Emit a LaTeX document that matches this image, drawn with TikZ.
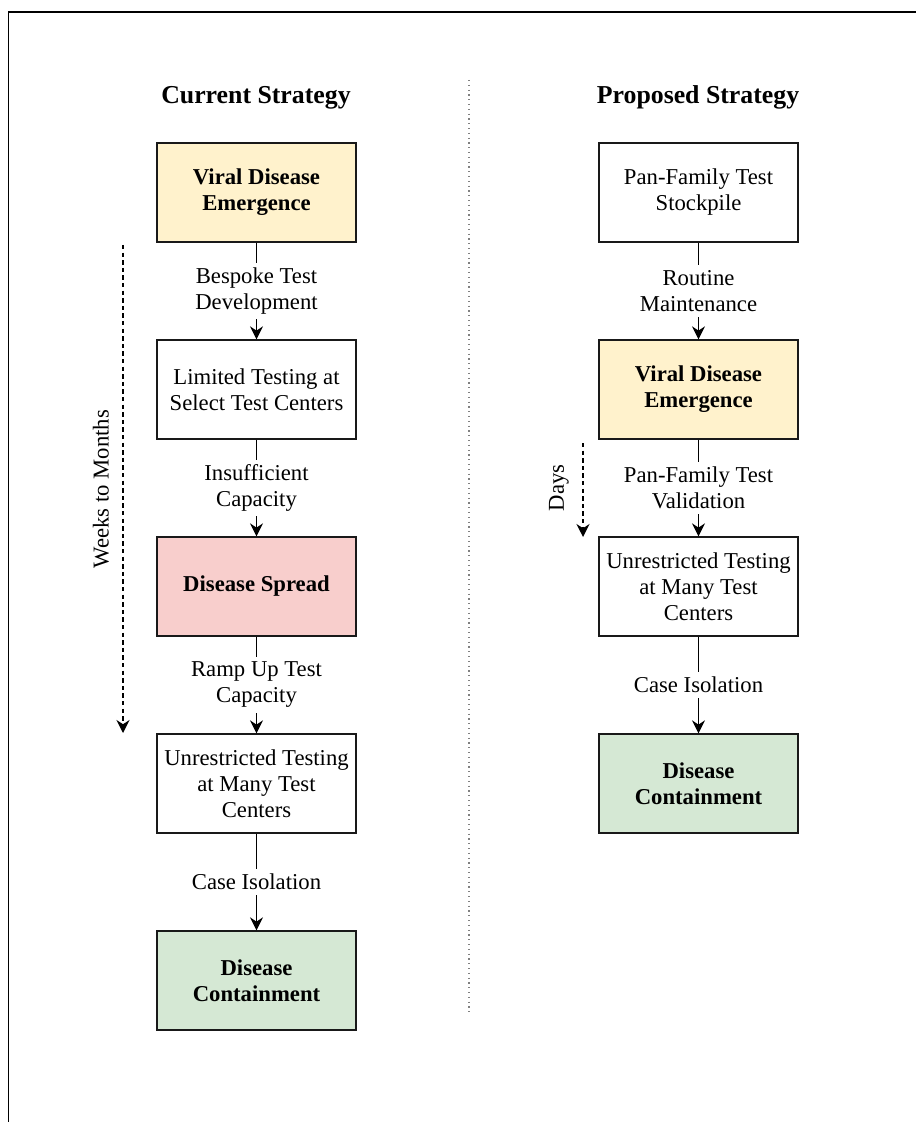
\documentclass[tikz,border=0pt]{standalone}
\usepackage{fontspec}
\setmainfont{Liberation Serif}
\usetikzlibrary{arrows.meta}
\definecolor{emergefill}{HTML}{FFF2CC}
\definecolor{spreadfill}{HTML}{F8CECC}
\definecolor{containfill}{HTML}{D5E8D4}
\tikzset{
	stage/.style={draw=black!90, line width=0.65pt, minimum width=99.5pt, minimum height=49.5pt, inner sep=2pt, align=center, font=\fontsize{11.35}{13}\selectfont},
	keystage/.style={stage, font=\fontsize{11.35}{13}\selectfont\bfseries},
	flow/.style={line width=0.65pt, -{Stealth[length=6.5pt,width=6.5pt]}},
	steplabel/.style={fill=white, align=center, inner xsep=1pt, inner ysep=2.5pt, font=\fontsize{11.35}{13}\selectfont},
	timeline/.style={line width=0.75pt, dash pattern=on 2.2pt off 1.6pt, -{Stealth[length=6.5pt,width=6.5pt]}},
	heading/.style={font=\fontsize{12.9}{15}\selectfont\bfseries}
}
\begin{document}
\begin{tikzpicture}[x=0.5pt,y=-0.5pt]
			\useasboundingbox (0,0) rectangle (916,1122);
			% frame and divider
			\draw[line width=0.65pt] (8.5,1122) -- (8.5,12) -- (916,12);
			\draw[gray, line width=0.6pt, dash pattern=on 0.6pt off 1.8pt] (469,80) -- (469,1013);
			% current strategy
			\node[heading] (curtitle) at (256,98) {Current Strategy};
			\node[keystage, fill=emergefill] (cur1) at (256.5,192.5) {Viral Disease\\Emergence};
			\node[stage] (cur2) at (256.5,389.5) {Limited Testing at\\Select Test Centers};
			\node[keystage, fill=spreadfill] (cur3) at (256.5,586.5) {Disease Spread};
			\node[stage] (cur4) at (256.5,783.5) {Unrestricted Testing\\at Many Test\\Centers};
			\node[keystage, fill=containfill] (cur5) at (256.5,980.5) {Disease\\Containment};
			\draw[flow] (cur1) -- node[steplabel]{Bespoke Test\\Development} (cur2);
			\draw[flow] (cur2) -- node[steplabel]{Insufficient\\Capacity} (cur3);
			\draw[flow] (cur3) -- node[steplabel]{Ramp Up Test\\Capacity} (cur4);
			\draw[flow] (cur4) -- node[steplabel]{Case Isolation} (cur5);
			\coordinate (curstart) at (123,245);
			\coordinate (curend) at (123,733);
			\draw[timeline] (curstart) -- (curend);
			\node[rotate=90, font=\fontsize{11.35}{13}\selectfont] (weeks) at (101,489) {Weeks to Months};
			% proposed strategy
			\node[heading] (protitle) at (698,97) {Proposed Strategy};
			\node[stage] (pro1) at (698.5,192.5) {Pan-Family Test\\Stockpile};
			\node[keystage, fill=emergefill] (pro2) at (698.5,389.5) {Viral Disease\\Emergence};
			\node[stage] (pro3) at (698.5,586.5) {Unrestricted Testing\\at Many Test\\Centers};
			\node[keystage, fill=containfill] (pro4) at (698.5,783.5) {Disease\\Containment};
			\draw[flow] (pro1) -- node[steplabel]{Routine\\Maintenance} (pro2);
			\draw[flow] (pro2) -- node[steplabel]{Pan-Family Test\\Validation} (pro3);
			\draw[flow] (pro3) -- node[steplabel]{Case Isolation} (pro4);
			\coordinate (prostart) at (583,443);
			\coordinate (proend) at (583,537);
			\draw[timeline] (prostart) -- (proend);
			\node[rotate=90, font=\fontsize{11.35}{13}\selectfont] (days) at (559,488) {Days};
		\end{tikzpicture}
\end{document}
